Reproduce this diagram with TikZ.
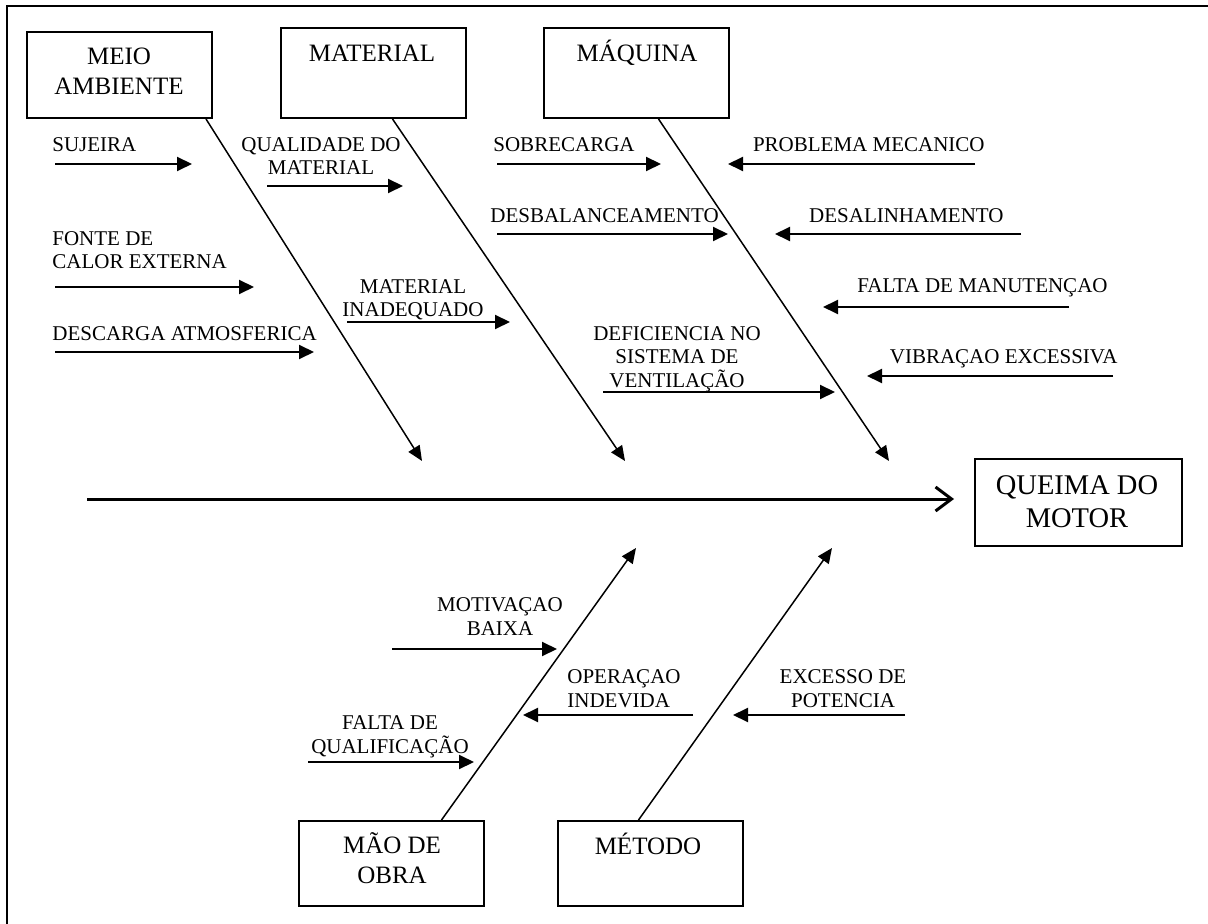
\documentclass[tikz,border=0pt]{standalone}
\usepackage{fontspec}
\setmainfont{Liberation Serif}
\usetikzlibrary{arrows.meta,calc}

\begin{document}
\begin{tikzpicture}[x=0.5pt,y=-0.5pt]

% Work in pixels of the original sheet, y running downwards
\clip (0,0) rectangle (1208,924);

% Outer frame, it runs off the sheet at the right and at the bottom
\draw[line width=1pt] (7,6) rectangle (1240,950);

% Styles for the boxes, the titles in them and the cause texts
% (texts are placed at the baseline of their last line)
\tikzstyle{catbox}=[draw, line width=1pt, inner sep=0pt, minimum width=92.5pt]
\tikzstyle{cattitle}=[font=\fontsize{12.5}{15}\selectfont, align=center, inner sep=0pt, anchor=base]
\tikzstyle{efftitle}=[font=\fontsize{14.25}{16.5}\selectfont, align=center, inner sep=0pt, anchor=base]
\tikzstyle{cause}=[font=\fontsize{10.5}{11.75}\selectfont, align=center, inner sep=0pt, anchor=base]

% Arrows: the spine, the bones and the small cause arrows
\tikzstyle{spine}=[line width=1.5pt, -{Straight Barb[length=8pt,width=12pt]}]
\tikzstyle{bone}=[line width=0.75pt, -{Triangle[length=7.5pt,width=6.5pt]}]
\tikzstyle{causeline}=[line width=1pt, -{Triangle[length=7.5pt,width=7pt]}]

% A cause arrow, drawn between two named coordinates
\newcommand{\causearrow}[4]{
% #1 = name, #2 = x where it starts, #3 = x of its tip, #4 = y
\coordinate (#1-from) at (#2,#4);
\coordinate (#1-to) at (#3,#4);
\draw[causeline] (#1-from) -- (#1-to);
} % End of definition of `causearrow`

% The six boxes (five categories and the effect)
\node[catbox, minimum height=43pt] (meio) at (119.5,75) {};
\node[catbox, minimum height=45pt] (mat) at (373.5,73) {};
\node[catbox, minimum height=45pt] (maq) at (636.5,73) {};
\node[catbox, minimum height=42.5pt] (mao) at (391.5,863.5) {};
\node[catbox, minimum height=42.5pt] (met) at (650.5,863.5) {};
\node[catbox, minimum width=103.5pt, minimum height=43.5pt] (queima) at (1078.5,502.5) {};

\node[cattitle] (meio-t) at (119,95) {MEIO\\AMBIENTE};
\node[cattitle] (mat-t) at (372,62) {MATERIAL};
\node[cattitle] (maq-t) at (637,62) {MÁQUINA};
\node[cattitle] (mao-t) at (392,883) {MÃO DE\\OBRA};
\node[cattitle] (met-t) at (648,854) {MÉTODO};
\node[efftitle] (queima-t) at (1077,527) {QUEIMA DO\\MOTOR};

% Spine towards the effect
\coordinate (tail) at (87,499);
\draw[spine] (tail) -- ([xshift=-10pt]queima.west |- tail);

% Bones from the boxes to the spine
\coordinate (tipA) at (422,461);
\coordinate (tipB) at (625,461);
\coordinate (tipC) at (889,461);
\coordinate (tipD) at (636,548);
\coordinate (tipE) at (832,548);
\draw[bone] ([xshift=-3.5pt]meio.south east) -- (tipA);
\draw[bone] ([xshift=9.5pt]mat.south) -- (tipB);
\draw[bone] ([xshift=11pt]maq.south) -- (tipC);
\draw[bone] ([xshift=25pt]mao.north) -- (tipD);
\draw[bone] ([xshift=-6pt]met.north) -- (tipE);

% Causes of MEIO AMBIENTE
\node[cause, anchor=base west] (sujeira) at (52,152) {SUJEIRA};
\node[cause, anchor=base west, align=left] (fonte) at (52,269) {FONTE DE\\CALOR EXTERNA};
\node[cause, anchor=base west] (descarga) at (52,341) {DESCARGA ATMOSFERICA};
\causearrow{sujeira}{55}{192}{164}
\causearrow{fonte}{55}{254}{287}
\causearrow{descarga}{55}{314}{352}

% Causes of MATERIAL
\node[cause] (qualidade) at (321,175) {QUALIDADE DO\\MATERIAL};
\node[cause] (inadequado) at (413,317) {MATERIAL\\INADEQUADO};
\causearrow{qualidade}{267}{403}{186}
\causearrow{inadequado}{347}{510}{322}

% Causes of MÁQUINA, left of the bone
\node[cause, anchor=base west] (sobrecarga) at (493,152) {SOBRECARGA};
\node[cause, anchor=base west] (desbal) at (490,223) {DESBALANCEAMENTO};
\node[cause] (ventilacao) at (677,387) {DEFICIENCIA NO\\SISTEMA DE\\VENTILAÇÃO};
\causearrow{sobrecarga}{497}{661}{164}
\causearrow{desbal}{497}{728}{234}
\causearrow{ventilacao}{603}{835}{392}

% Causes of MÁQUINA, right of the bone
\node[cause, anchor=base east] (problema) at (985,152) {PROBLEMA MECANICO};
\node[cause, anchor=base east] (desalinh) at (1004,223) {DESALINHAMENTO};
\node[cause, anchor=base east] (manut) at (1108,293) {FALTA DE MANUTENÇAO};
\node[cause, anchor=base east] (vibracao) at (1118,364) {VIBRAÇAO EXCESSIVA};
\causearrow{problema}{975}{728}{164}
\causearrow{desalinh}{1021}{775}{234}
\causearrow{manut}{1069}{823}{307}
\causearrow{vibracao}{1113}{867}{376}

% Causes of MÃO DE OBRA
\node[cause] (motivacao) at (500,635) {MOTIVAÇAO\\BAIXA};
\node[cause, anchor=base west, align=left] (operacao) at (567,707) {OPERAÇAO\\INDEVIDA};
\node[cause] (qualif) at (390,753) {FALTA DE\\QUALIFICAÇÃO};
\causearrow{motivacao}{392}{557}{649}
\causearrow{operacao}{693}{523}{715}
\causearrow{qualif}{308}{474}{762}

% Causes of MÉTODO
\node[cause] (excesso) at (843,707) {EXCESSO DE\\POTENCIA};
\causearrow{excesso}{905}{733}{715}

\end{tikzpicture}
\end{document}
